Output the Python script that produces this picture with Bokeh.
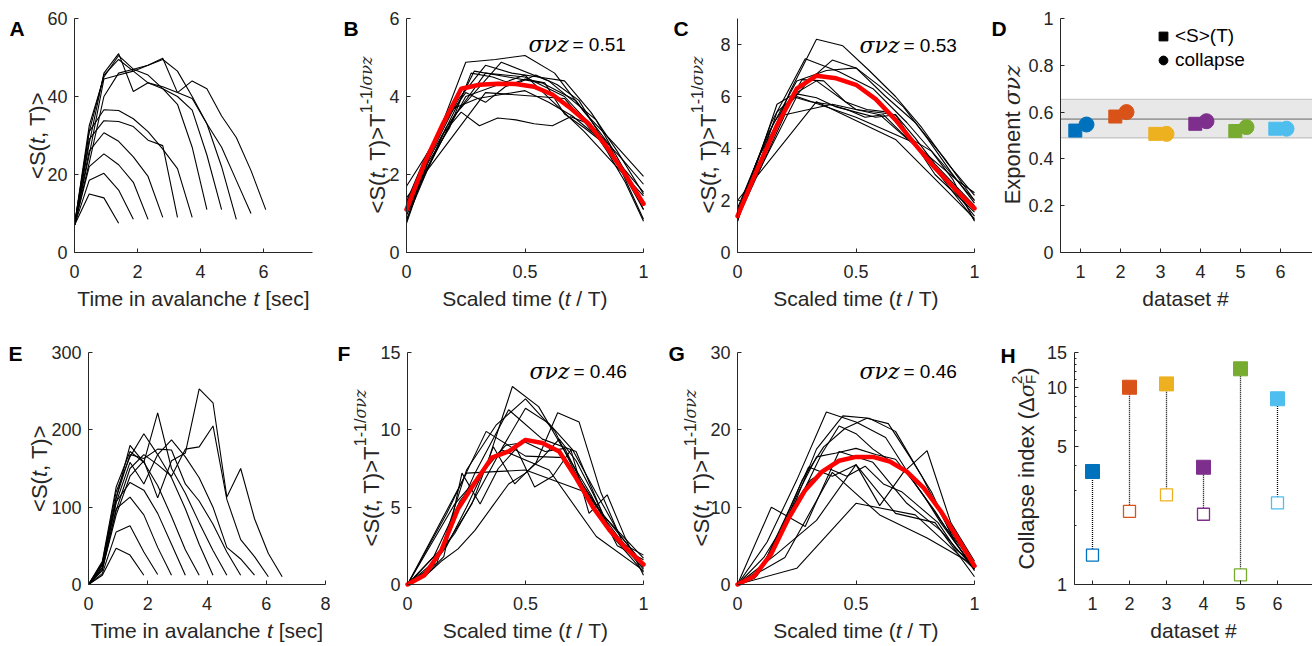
import numpy as np
from bokeh.plotting import figure
from bokeh.models import Range1d, FixedTicker, CustomJSTickFormatter, Label, Legend, LegendItem
from bokeh.layouts import row, column
from bokeh.embed import file_html
from bokeh.resources import INLINE

# ---------------- data ----------------
DT = 0.467  # time bin (s) for panels A and E

A_CURVES = [
    [7, 15, 14, 7.5],
    [7, 18.5, 20.3, 16, 8.5],
    [7, 22, 25.3, 22.5, 18, 8.5],
    [7, 26, 30.7, 28.5, 24.5, 19.5, 9],
    [7, 29, 33.8, 33.6, 32.3, 28.8, 27.4, 9],
    [7, 31, 36.6, 36.4, 34.3, 31, 26.5, 21.5, 9],
    [7, 32.5, 45, 50.5, 47, 45.5, 42, 38, 27, 11],
    [7, 31, 45.5, 49.5, 46.5, 43.5, 42, 40, 36.5, 25, 11],
    [7, 28, 46, 51, 41.3, 43.5, 42.5, 41, 39.5, 33, 22, 8.5],
    [7, 25, 44.5, 45.5, 46.5, 48, 49.5, 46.5, 40, 33, 27, 18.5, 10],
    [7, 23, 40, 46, 47, 48, 49.8, 41, 44, 42, 35, 29.5, 21, 11],
]

B_CURVES = [
    [1.4, 4.1, 3.95, 1.55],
    [1.2, 4.0, 4.55, 3.1, 1.45],
    [1.05, 3.5, 4.88, 4.4, 3.4, 1.25],
    [0.95, 3.2, 4.6, 4.5, 4.0, 2.9, 1.1],
    [0.85, 2.9, 4.65, 4.5, 4.35, 3.9, 2.75, 0.85],
    [1.7, 2.9, 4.88, 4.95, 5.05, 4.6, 3.6, 2.8, 1.95],
    [1.25, 2.8, 3.95, 4.8, 4.6, 4.5, 4.4, 3.6, 2.6, 1.5],
    [0.75, 2.5, 3.7, 3.95, 4.05, 4.15, 3.85, 3.5, 3.0, 2.25, 1.2],
    [1.0, 2.3, 3.2, 4.6, 4.5, 4.3, 4.55, 4.3, 3.9, 3.0, 2.4, 1.75],
    [1.3, 2.5, 3.4, 4.1, 3.85, 4.25, 4.45, 4.35, 3.55, 3.2, 2.8, 2.1, 1.1],
    [0.8, 2.2, 3.05, 3.6, 3.25, 3.45, 3.4, 3.3, 3.25, 3.48, 3.3, 2.6, 1.8, 0.8],
]
B_MEAN = [1.1, 2.3, 3.3, 4.2, 4.3, 4.33, 4.32, 4.25, 4.05, 3.7, 3.3, 2.7, 2.0, 1.25]

C_CURVES = [
    [2.0, 5.8, 4.35, 1.3],
    [1.5, 6.0, 5.2, 4.2, 1.25],
    [1.3, 5.3, 5.7, 5.3, 3.7, 1.4],
    [1.2, 5.7, 6.6, 5.5, 5.3, 3.0, 1.55],
    [1.5, 5.0, 7.45, 6.95, 6.3, 5.0, 3.5, 2.0],
    [1.6, 4.5, 6.6, 7.0, 7.1, 6.0, 5.0, 3.6, 2.0],
    [1.4, 3.8, 6.2, 8.2, 7.95, 7.0, 6.0, 4.8, 3.4, 2.2],
    [1.3, 3.6, 5.5, 6.6, 7.4, 7.1, 6.4, 5.6, 4.4, 3.1, 1.9],
    [1.7, 3.7, 5.2, 6.65, 6.6, 5.8, 5.5, 5.4, 4.4, 3.9, 2.8, 1.2],
    [1.6, 3.2, 5.4, 6.1, 5.95, 5.6, 5.4, 5.2, 5.3, 4.4, 3.4, 2.6, 1.8],
    [1.2, 3.4, 5.0, 6.0, 5.8, 5.7, 5.5, 5.2, 5.3, 4.6, 4.0, 3.4, 2.8, 2.3],
]
C_MEAN = [1.4, 3.2, 4.9, 6.3, 6.8, 6.7, 6.45, 5.9, 5.1, 4.15, 3.25, 2.45, 1.7]

E_CURVES = [
    [0, 12, 47, 38, 12],
    [0, 14, 68, 76, 42, 13],
    [0, 18, 98, 113, 90, 48, 12],
    [0, 22, 107, 132, 122, 92, 52, 12],
    [0, 26, 112, 180, 158, 128, 88, 45, 12],
    [0, 28, 120, 165, 195, 168, 138, 98, 52, 12],
    [0, 30, 126, 172, 158, 222, 150, 118, 80, 44, 12],
    [0, 27, 112, 168, 163, 175, 174, 130, 108, 78, 42, 12],
    [0, 25, 106, 158, 130, 168, 187, 165, 138, 100, 48, 33, 12],
    [0, 22, 96, 150, 168, 155, 140, 175, 178, 205, 110, 58, 36, 10],
    [0, 20, 90, 140, 160, 112, 160, 170, 253, 235, 113, 150, 85, 40, 10],
]

F_CURVES = [
    [0, 7.2, 7.4, 6.0, 1.3],
    [0, 5.2, 8.7, 7.4, 3.1, 0.9],
    [0, 4.6, 9.9, 8.3, 8.2, 4.4, 1.7],
    [0, 2.3, 7.2, 11.3, 9.4, 8.6, 3.5, 1.0],
    [0, 1.4, 7.4, 10.3, 12.0, 9.9, 6.0, 3.0, 0.8],
    [0, 1.8, 5.4, 7.6, 12.8, 11.5, 8.6, 5.8, 2.5, 1.6],
    [0, 1.3, 3.3, 6.0, 8.8, 11.4, 10.4, 8.7, 5.9, 3.2, 1.3],
    [0, 1.0, 3.0, 5.2, 8.9, 6.5, 7.9, 11.1, 10.5, 6.0, 2.8, 1.1],
    [0, 0.8, 2.5, 5.0, 7.7, 9.0, 9.2, 8.6, 8.8, 6.2, 4.3, 2.6, 1.9],
    [0, 0.6, 1.8, 7.2, 5.2, 7.5, 8.8, 6.3, 7.0, 8.7, 4.6, 5.8, 3.0, 0.6],
    [0, 0.5, 1.5, 2.3, 3.5, 5.0, 6.5, 7.2, 8.2, 9.4, 8.0, 5.9, 3.6, 2.2, 1.4],
]
F_MEAN = [0, 0.6, 2.2, 4.9, 6.6, 8.2, 8.6, 9.35, 9.15, 8.6, 6.9, 5.0, 3.5, 2.3, 1.3]

G_CURVES = [
    [0, 2.1, 10.5, 9.0, 2.0],
    [0, 3.5, 14.5, 9.0, 6.0, 2.5],
    [0, 4.0, 8.3, 15.5, 9.2, 8.0, 1.0],
    [0, 10.0, 7.5, 17.2, 15.8, 10.5, 7.0, 2.0],
    [0, 5.5, 13.5, 22.3, 21.0, 19.0, 13.0, 7.5, 2.6],
    [0, 3.5, 9.0, 17.5, 21.8, 21.5, 19.8, 14.0, 7.3, 2.5],
    [0, 2.0, 8.5, 15.2, 14.0, 15.5, 10.2, 14.5, 17.3, 8.0, 3.0],
    [0, 1.5, 7.0, 13.5, 17.8, 20.2, 21.5, 20.8, 16.5, 12.0, 6.0, 1.8],
    [0, 1.2, 5.5, 11.5, 16.5, 17.0, 17.6, 16.8, 16.2, 13.0, 9.5, 5.5, 2.2],
    [0, 1.0, 4.5, 10.0, 13.5, 15.0, 14.0, 15.3, 13.0, 12.0, 10.0, 8.0, 4.5, 2.6],
    [0, 0.8, 3.8, 8.5, 12.5, 17.0, 20.5, 19.5, 17.5, 16.0, 14.5, 11.5, 8.0, 5.0, 2.0],
]
G_MEAN = [0, 1.1, 4.0, 8.5, 12.2, 14.6, 16.0, 16.5, 16.5, 15.9, 14.6, 12.5, 9.5, 6.0, 2.4]

EXPONENTS = {"B": "0.51", "C": "0.53", "F": "0.46", "G": "0.46"}

DATASETS = [1, 2, 3, 4, 5, 6]
D_SQUARE = [0.521, 0.581, 0.507, 0.550, 0.519, 0.529]
D_CIRCLE = [0.547, 0.600, 0.507, 0.561, 0.536, 0.529]
D_MEAN, D_LO, D_HI = 0.57, 0.49, 0.655
H_FILLED = [3.74, 10.0, 10.4, 3.93, 12.4, 8.74]
H_OPEN = [1.41, 2.35, 2.85, 2.27, 1.12, 2.59]
COLORS = ["#0072BD", "#D95319", "#EDB120", "#7E2F8E", "#77AC30", "#4DBEEE"]

# ---------------- style helpers ----------------
AX = "#262626"
SANS = "Liberation Sans"
SERIF = "DejaVu Serif"
W_SANS = {" ": 278, "#": 556, "(": 333, ")": 333, ",": 278, "-": 333, ".": 278,
          "/": 278, "<": 584, "=": 584, ">": 584, "[": 278, "]": 278,
          "A": 667, "C": 722, "E": 667, "F": 611, "S": 667, "T": 611,
          "a": 556, "c": 500, "d": 556, "e": 556, "h": 556, "i": 222, "l": 222,
          "m": 833, "n": 556, "o": 556, "p": 556, "s": 500, "t": 278, "v": 500,
          "x": 500, "z": 500, "\u0394": 667}
W_SERIF = {" ": 318, "\u03c3": 634, "\u03bd": 593, "z": 525}
FMT = CustomJSTickFormatter(code="return tick.toString();")


def seg(text, size=22, font=SANS, style="normal", shift=0, advance=True):
    return dict(text=text, size=size, font=font, style=style, shift=shift, advance=advance)


def seg_w(s):
    table = W_SERIF if s["font"] == SERIF else W_SANS
    return sum(table.get(c, 556) for c in s["text"]) * s["size"] / 1000.0


def put(p, g, text, px, py, size="21px", font=SANS, style="normal", color=AX,
        align="left", baseline="alphabetic", angle=0):
    X0, Y0, H = g
    p.add_layout(Label(x=px - X0, y=Y0 + H - py, x_units="screen", y_units="screen", text=text,
                       text_font=font, text_font_style=style, text_font_size=size,
                       text_color=color, text_align=align, text_baseline=baseline,
                       angle=angle, angle_units="deg"))


def rich(p, g, segs, px, py, rotate=False, color=AX):
    """Centered multi-style text; (px, py) = page position of the centre of the baseline."""
    total = sum(seg_w(s) for s in segs if s["advance"])
    pos = -total / 2.0
    for s in segs:
        table = W_SERIF if s["font"] == SERIF else W_SANS
        txt = s["text"]
        lead = len(txt) - len(txt.lstrip(" "))
        off = pos + lead * table[" "] * s["size"] / 1000.0
        common = dict(size=f'{s["size"]}px', font=s["font"], style=s["style"], color=color)
        if rotate:
            put(p, g, txt.strip(" "), px - s["shift"], py - off, angle=90, **common)
        else:
            put(p, g, txt.strip(" "), px + off, py - s["shift"], **common)
        if s["advance"]:
            pos += seg_w(s)


def make_panel(X0, W, Y0, H, px0, x0, sx, xend, py0, y0, y1, py1, xt, yt, log=False):
    """Figure whose frame is the whole panel; axes drawn at fixed data locations."""
    xs = x0 - (px0 - X0) / sx
    xe = x0 + (X0 + W - px0) / sx
    if log:
        l0, l1 = np.log10(y0), np.log10(y1)
        sy = (py0 - py1) / (l1 - l0)
        ys, ye = 10 ** (l0 - (Y0 + H - py0) / sy), 10 ** (l0 + (py0 - Y0) / sy)
    else:
        sy = (py0 - py1) / (y1 - y0)
        ys, ye = y0 - (Y0 + H - py0) / sy, y0 + (py0 - Y0) / sy
    p = figure(width=W, height=H, x_range=Range1d(xs, xe), y_range=Range1d(ys, ye),
               y_axis_type="log" if log else "linear",
               min_border=0, min_border_left=0, min_border_right=0,
               min_border_top=0, min_border_bottom=0,
               output_backend="svg", toolbar_location=None, tools="")
    p.title.visible = False
    p.outline_line_color = None
    p.grid.visible = False
    p.background_fill_color = "white"
    p.border_fill_color = "white"
    p.xaxis.ticker = FixedTicker(ticks=xt)
    p.yaxis.ticker = FixedTicker(ticks=yt)
    for ax in p.axis:
        ax.axis_line_color = AX
        ax.axis_line_width = 1
        ax.major_tick_line_color = AX
        ax.major_tick_in = 4
        ax.major_tick_out = 0
        ax.minor_tick_line_color = None
        ax.major_label_text_font = SANS
        ax.major_label_text_font_size = "18px"
        ax.major_label_text_color = AX
        ax.formatter = FMT
    p.xaxis.fixed_location = y0
    p.xaxis.bounds = (x0, xend)
    p.xaxis.major_label_standoff = 12
    p.yaxis.fixed_location = x0
    p.yaxis.bounds = (y0, y1)
    p.yaxis.major_label_standoff = 7
    return p, (X0, Y0, H)


def letter(p, g, ch, px, py):
    put(p, g, ch, px, py, size="21px", style="bold", color="black")


TIME_SEGS = [seg("Time in avalanche ", 21), seg("t", 21, style="italic"), seg(" [sec]", 21)]
SCALED_SEGS = [seg("Scaled time (", 21), seg("t", 21, style="italic"), seg(" / T)", 21)]
DATASET_SEGS = [seg("dataset #", 21)]
S_SEGS = [seg("<S("), seg("t", style="italic"), seg(", T)>")]
SS_SEGS = [seg("<S("), seg("t", style="italic"), seg(", T)>T"),
           seg("1-1/", 16, shift=11), seg("\u03c3\u03bdz", 16, font=SERIF, style="italic", shift=11)]
EXP_SEGS = [seg("Exponent "), seg("\u03c3\u03bdz", 22, font=SERIF, style="italic")]
CI_SEGS = [seg("Collapse index ("), seg("\u0394"), seg("\u03c3", 21, font=SERIF, style="italic"),
           seg("2", 15, shift=10, advance=False), seg("F", 15, shift=-4), seg(")")]


def exponent_text(p, g, key, px, py):
    put(p, g, "\u03c3\u03bdz", px, py, size="22px", font=SERIF, style="italic", color="black",
        align="right", baseline="middle")
    put(p, g, "= " + EXPONENTS[key], px + 4, py, size="19px", color="black", baseline="middle")


def curves_time(p, curves):
    xs = [[i * DT for i in range(len(c))] for c in curves]
    p.multi_line(xs=xs, ys=curves, line_color="black", line_width=1.1)


def curves_scaled(p, curves, mean):
    xs = [list(np.linspace(0, 1, len(c))) for c in curves]
    p.multi_line(xs=xs, ys=curves, line_color="black", line_width=1.1)
    p.line(list(np.linspace(0, 1, len(mean))), mean, line_color="#FF0000", line_width=4.5,
           line_join="round", line_cap="round")


# ---------------- row 1 (page y 0..310) ----------------
R1 = dict(Y0=0, H=310, py0=252, py1=18)
R1_YC, R1_XB, R1_LB = 135, 298, 28

pA, gA = make_panel(0, 330, R1["Y0"], R1["H"], 74, 0, 31.5, 7.55, R1["py0"], 0, 60, R1["py1"],
                    [0, 2, 4, 6], [0, 20, 40, 60])
curves_time(pA, A_CURVES)
letter(pA, gA, "A", 9, R1_LB)
rich(pA, gA, S_SEGS, 37, R1_YC, rotate=True)
rich(pA, gA, TIME_SEGS, 193, R1_XB)

pB, gB = make_panel(330, 330, R1["Y0"], R1["H"], 406, 0, 237, 1, R1["py0"], 0, 6, R1["py1"],
                    [0, 0.5, 1], [0, 2, 4, 6])
curves_scaled(pB, B_CURVES, B_MEAN)
exponent_text(pB, gB, "B", 568, 44)
letter(pB, gB, "B", 343, R1_LB)
rich(pB, gB, SS_SEGS, 377, R1_YC, rotate=True)
rich(pB, gB, SCALED_SEGS, 524.5, R1_XB)

pC, gC = make_panel(660, 330, R1["Y0"], R1["H"], 737, 0, 237, 1, R1["py0"], 0, 9, R1["py1"],
                    [0, 0.5, 1], [0, 2, 4, 6, 8])
curves_scaled(pC, C_CURVES, C_MEAN)
exponent_text(pC, gC, "C", 899, 45)
letter(pC, gC, "C", 673, R1_LB)
rich(pC, gC, SS_SEGS, 708, R1_YC, rotate=True)
rich(pC, gC, SCALED_SEGS, 855.5, R1_XB)

D_X0, D_X1 = 0.5, 6.8
pD, gD = make_panel(990, 322, R1["Y0"], R1["H"], 1060, D_X0, 40, D_X1, R1["py0"], 0, 1, R1["py1"],
                    DATASETS, [0, 0.2, 0.4, 0.6, 0.8, 1])
pD.quad(left=[D_X0], right=[D_X1], bottom=[D_LO], top=[D_HI], fill_color="#E8E8E8", line_color=None)
pD.multi_line(xs=[[D_X0, D_X1], [D_X0, D_X1]], ys=[[D_LO, D_LO], [D_HI, D_HI]],
              line_color="#8F8F8F", line_dash="1 1", line_width=1.2)
pD.line([D_X0, D_X1], [D_MEAN, D_MEAN], line_color="#9E9E9E", line_width=1.6)
pD.scatter([d - 0.13 for d in DATASETS], D_SQUARE, marker="square", size=13,
           fill_color=COLORS, line_color=COLORS)
pD.scatter([d + 0.15 for d in DATASETS], D_CIRCLE, marker="circle", size=15,
           fill_color=COLORS, line_color=COLORS)
leg_sq = pD.scatter(x=[np.nan], y=[np.nan], marker="square", size=10,
                    fill_color="black", line_color="black")
leg_ci = pD.scatter(x=[np.nan], y=[np.nan], marker="circle", size=11,
                    fill_color="black", line_color="black")
legend = Legend(items=[LegendItem(label="<S>(T)", renderers=[leg_sq]),
                       LegendItem(label="collapse", renderers=[leg_ci])],
                location=(1152 - 990, R1["H"] - 71), orientation="vertical",
                glyph_width=22, glyph_height=22, label_standoff=1, spacing=2,
                padding=0, margin=0, border_line_color=None, background_fill_alpha=0,
                label_text_font=SANS, label_text_font_size="19px", label_text_color="black",
                label_height=22)
pD.add_layout(legend)
letter(pD, gD, "D", 991, R1_LB)
rich(pD, gD, EXP_SEGS, 1012, R1_YC, rotate=True)
rich(pD, gD, DATASET_SEGS, 1185, R1_XB)

# ---------------- row 2 (page y 310..644) ----------------
R2 = dict(Y0=310, H=334, py0=584, py1=352)
R2_YC, R2_XB, R2_LB = 468, 630, 353

pE, gE = make_panel(0, 330, R2["Y0"], R2["H"], 88, 0, 29.625, 8, R2["py0"], 0, 300, R2["py1"],
                    [0, 2, 4, 6, 8], [0, 100, 200, 300])
curves_time(pE, E_CURVES)
letter(pE, gE, "E", 8, R2_LB)
rich(pE, gE, S_SEGS, 39, R2_YC, rotate=True)
rich(pE, gE, TIME_SEGS, 206.5, R2_XB)

pF, gF = make_panel(330, 330, R2["Y0"], R2["H"], 407, 0, 236, 1, R2["py0"], 0, 15, R2["py1"],
                    [0, 0.5, 1], [0, 5, 10, 15])
curves_scaled(pF, F_CURVES, F_MEAN)
exponent_text(pF, gF, "F", 569, 371)
letter(pF, gF, "F", 337, R2_LB)
rich(pF, gF, SS_SEGS, 371, R2_YC, rotate=True)
rich(pF, gF, SCALED_SEGS, 525, R2_XB)

pG, gG = make_panel(660, 330, R2["Y0"], R2["H"], 737, 0, 237, 1, R2["py0"], 0, 30, R2["py1"],
                    [0, 0.5, 1], [0, 10, 20, 30])
curves_scaled(pG, G_CURVES, G_MEAN)
exponent_text(pG, gG, "G", 899, 371)
letter(pG, gG, "G", 668, R2_LB)
rich(pG, gG, SS_SEGS, 701, R2_YC, rotate=True)
rich(pG, gG, SCALED_SEGS, 855.5, R2_XB)

pH, gH = make_panel(990, 322, R2["Y0"], R2["H"], 1073.5, 0.5, 37, 6.94, R2["py0"], 1, 15, R2["py1"],
                    DATASETS, [1, 5, 10, 15], log=True)
pH.yaxis.ticker = FixedTicker(ticks=[1, 5, 10, 15], minor_ticks=[2, 3, 4, 6, 7, 8, 9, 11, 12, 13, 14])
pH.yaxis.minor_tick_line_color = AX
pH.yaxis.minor_tick_in = 2
pH.yaxis.minor_tick_out = 0
pH.segment(x0=DATASETS, y0=H_OPEN, x1=DATASETS, y1=H_FILLED, line_color="black",
           line_dash="1 1", line_width=1.3)
pH.scatter(DATASETS, H_OPEN, marker="square", size=12, fill_color="white", line_color=COLORS,
           line_width=1.3)
pH.scatter(DATASETS, H_FILLED, marker="square", size=14, fill_color=COLORS, line_color=COLORS)
letter(pH, gH, "H", 1000, 355)
rich(pH, gH, CI_SEGS, 1026, R2_YC, rotate=True)
rich(pH, gH, DATASET_SEGS, 1193, R2_XB)

layout = column(row(pA, pB, pC, pD), row(pE, pF, pG, pH))
open("out.html", "w").write(file_html(layout, INLINE))
